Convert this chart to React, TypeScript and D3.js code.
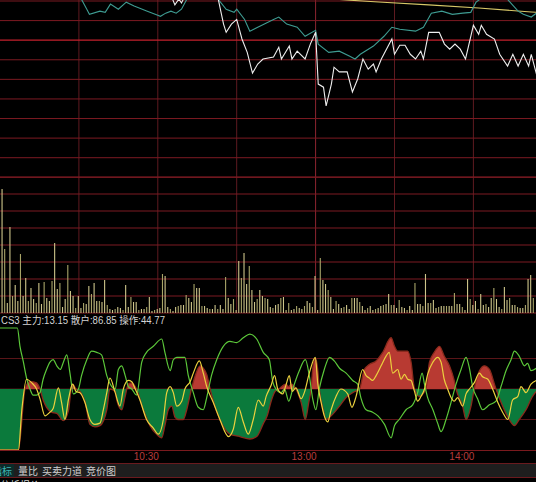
import React from "react";
import * as d3 from "d3";

const W = 536;
const H = 482;

// minutes since 9:30 (13:00 continues at 120), % change vs previous close
const priceWhite: [number, number][] = [
  [0, 1.8], [20, 1.5], [40, 1.6], [60, 1.4], [65, 1.15], [66.5, 0.9], [68, 1.05], [69, 0.95], [70.5, 1.15],
  [78, 1.5], [82, 1.3], [83, 1.04], [85, 0.41], [86, 0.2], [88, 0.41], [90, 0.53], [92, 0.03], [94, -0.31],
  [96, -0.84], [98, -0.61], [100, -0.48], [104, -0.43], [106, -0.18], [107, -0.48], [110, -0.15], [111, -0.48],
  [113, -0.28], [116, -0.48], [118, -0.1], [120, 0.2], [121, -1.12], [123, -1.2], [124, -1.68], [126, -1.12],
  [127, -0.69], [129, -0.81], [132, -0.81], [134, -1.32], [136, -0.99], [138, -0.48], [140, -0.74], [142, -0.61],
  [143, -0.81], [145, -0.48], [149, 0.03], [150, -0.36], [152, -0.13], [154, -0.13], [156, -0.36], [158, -0.48],
  [160, -0.28], [161, -0.48], [163, 0.2], [167, 0.2], [169, -0.1], [171, -0.23], [173, -0.1], [175, -0.23],
  [177, -0.48], [180, 0.38], [182, 0.15], [183, 0.38], [185, 0.15], [188, 0.03], [190, -0.36], [193, -0.66],
  [195, -0.36], [197, -0.66], [199, -0.36], [201, -0.66], [202, -0.36], [204, -0.87], [206, -0.36],
];

const priceAvg: [number, number][] = [
  [0, 1.5], [15, 1.3], [28, 1.15], [31, 1.04], [33, 0.79], [34, 0.66], [38, 0.74], [40, 0.71], [42, 0.92],
  [45, 0.79], [48, 0.97], [51, 0.87], [56, 0.74], [59, 0.66], [61, 0.61], [63, 0.69], [65, 0.74], [67, 0.69],
  [69, 0.79], [71, 1.04], [75, 1.3], [80, 1.3], [83, 1.04], [86, 0.79], [89, 0.71], [90, 0.79], [93, 0.53],
  [95, 0.23], [98, 0.33], [104, 0.53], [106, 0.59], [109, 0.41], [113, 0.33], [116, 0.1], [120, 0.25],
  [121, -0.1], [125, -0.31], [129, -0.28], [133, -0.41], [135, -0.48], [137, -0.36], [142, -0.15], [146, 0.1],
  [149, 0.33], [152, 0.28], [158, 0.23], [161, 0.33], [164, 0.69], [168, 0.74], [172, 0.66], [176, 0.69],
  [179, 0.71], [181, 0.97], [184, 1.12], [190, 1.2], [193, 1.04], [197, 0.74], [199, 0.66], [202, 0.59],
  [206, 0.79], [208, 0.92], [210, 1.0],
];

const priceRef: [number, number][] = [
  [125, 1.06], [133, 1.02], [144, 0.975], [163, 0.9], [182, 0.82], [202, 0.72], [210, 0.69],
];

// per-minute volume
const volumes: number[] = [
  124, 64, 10, 86, 17, 28, 12, 59, 17, 35, 12, 25, 14, 10, 30, 9, 31, 15, 12, 32,
  70, 24, 30, 6, 14, 48, 22, 17, 5, 17, 5, 10, 9, 27, 19, 30, 12, 12, 11, 33,
  8, 4, 3, 4, 6, 5, 3, 28, 6, 16, 11, 11, 3, 4, 4, 6, 16, 2, 3, 4,
  5, 39, 37, 6, 4, 2, 6, 7, 8, 8, 18, 15, 11, 29, 25, 25, 7, 7, 5, 4,
  4, 8, 4, 8, 4, 36, 15, 9, 14, 3, 52, 35, 60, 29, 47, 23, 11, 14, 23, 17, 15,
  14, 6, 5, 8, 9, 15, 16, 3, 10, 3, 4, 7, 5, 4, 7, 12, 10, 6, 37, 3,
  55, 33, 29, 23, 16, 4, 12, 9, 5, 6, 8, 4, 15, 15, 15, 11, 7, 3, 5, 7,
  3, 4, 5, 7, 8, 9, 19, 8, 8, 5, 13, 6, 5, 3, 7, 3, 30, 9, 9, 7,
  39, 10, 10, 13, 5, 6, 7, 7, 7, 7, 7, 20, 9, 9, 6, 3, 34, 14, 8, 12,
  4, 19, 8, 9, 6, 15, 25, 14, 6, 4, 26, 13, 15, 8, 8, 6, 5, 5, 8, 34, 38, 15,
];

// CS3 indicator: 操作 (filled around 50), 主力 (yellow), 散户 (green)
const opSeries: [number, number][] = [
  [0, 0], [6.6, 0], [7.0, 0], [9.5, 50], [11.4, 56], [13.9, 55], [15.2, 50], [16.4, 41], [17.7, 35], [19.6, 31],
  [21.6, 30], [24.1, 24], [26.0, 32], [27.2, 52], [27.6, 54], [28.9, 50], [30.4, 48], [32.3, 40], [34.2, 21],
  [36.1, 19], [38.0, 20], [40.6, 33], [41.8, 50], [43.8, 48], [44.4, 41], [46.3, 33], [47.6, 44], [48.8, 54],
  [50.1, 55], [51.9, 50], [54.5, 33], [57.0, 20], [59.5, 13], [61.5, 10], [62.7, 20], [64.0, 33], [65.3, 36],
  [66.5, 27], [67.8, 25], [69.7, 25], [71.0, 33], [72.8, 50], [74.1, 60], [76.1, 69], [77.3, 67], [78.6, 62],
  [79.9, 50], [81.1, 40], [83.6, 25], [87.4, 13], [91.2, 11], [95.0, 9], [97.6, 11], [100.2, 22], [101.6, 28],
  [103.1, 40], [104.6, 48], [106.0, 50], [108.7, 54], [109.8, 52], [110.7, 54], [112.5, 50], [114.5, 39],
  [116.1, 25], [117.4, 39], [118.3, 50], [119.0, 68], [119.9, 75], [120.8, 66], [121.4, 50], [122.7, 35],
  [124.0, 25], [125.9, 28], [129.1, 36], [131.6, 43], [134.1, 47], [136.7, 50], [138.5, 66], [140.4, 70],
  [143.0, 73], [145.5, 80], [148.7, 92], [150.0, 85], [151.2, 81], [155.0, 81], [156.3, 72], [157.6, 50],
  [159.4, 44], [161.9, 50], [163.3, 72], [165.1, 80], [167.1, 85], [168.9, 77], [170.9, 69], [172.7, 57],
  [173.4, 50], [175.9, 36], [177.2, 25], [179.1, 36], [180.3, 50], [182.3, 65], [184.2, 69], [186.1, 66],
  [188.0, 54], [188.6, 50], [191.1, 36], [193.6, 25], [195.6, 20], [197.4, 25], [200.0, 33], [202.5, 44],
  [203.9, 48],
];

const mainSeries: [number, number][] = [
  [0, 0], [7.0, 0], [8.3, 33], [10.1, 58], [12.1, 55], [13.9, 50], [15.2, 42], [17.1, 28], [19.0, 31],
  [20.2, 34], [22.2, 51], [23.4, 39], [24.7, 25], [26.0, 41], [27.6, 54], [28.9, 48], [30.4, 47], [32.3, 39],
  [34.2, 25], [36.1, 21], [38.0, 22], [39.3, 33], [40.6, 47], [41.8, 59], [43.8, 47], [45.6, 36], [46.9, 50],
  [48.8, 57], [50.1, 56], [51.4, 50], [53.2, 41], [55.7, 25], [58.3, 18], [60.2, 13], [62.1, 25], [63.4, 47],
  [64.7, 52], [65.9, 47], [67.2, 36], [69.1, 40], [70.3, 50], [72.3, 56], [73.5, 63], [75.8, 73], [77.3, 63],
  [78.6, 52], [81.1, 39], [83.6, 25], [86.9, 11], [88.7, 17], [90.6, 35], [92.5, 23], [94.4, 13], [96.3, 25],
  [98.2, 41], [100.1, 36], [101.2, 44], [103.1, 53], [104.4, 61], [105.6, 50], [107.5, 46], [108.7, 53],
  [110.0, 61], [111.1, 48], [112.5, 51], [114.5, 42], [115.7, 47], [117.6, 63], [119.9, 76], [120.8, 55],
  [122.1, 39], [123.3, 28], [124.6, 23], [125.9, 33], [127.8, 44], [129.6, 50], [132.2, 46], [133.8, 35],
  [135.4, 44], [137.9, 66], [139.2, 61], [140.4, 59], [141.7, 57], [143.0, 61], [144.9, 69], [146.8, 77],
  [148.0, 80], [149.3, 63], [151.2, 66], [152.5, 58], [153.8, 62], [155.0, 58], [156.3, 57], [157.6, 48],
  [158.8, 40], [160.1, 44], [161.4, 50], [162.6, 62], [164.6, 72], [166.4, 76], [167.7, 72], [168.9, 58],
  [170.2, 50], [171.5, 43], [172.7, 40], [174.0, 43], [175.9, 36], [177.2, 46], [178.5, 50], [180.3, 55],
  [182.3, 63], [183.5, 60], [185.5, 58], [187.3, 50], [189.3, 39], [191.1, 31], [193.1, 25], [194.9, 41],
  [196.9, 44], [198.1, 52], [200.0, 47], [201.9, 54], [203.9, 57],
];

const retailSeries: [number, number][] = [
  [0, 100], [6.6, 100], [7.6, 85], [8.9, 72], [10.1, 59], [11.4, 50], [12.6, 45], [13.9, 45], [15.2, 47],
  [16.4, 58], [17.7, 66], [19.0, 72], [20.2, 74], [21.6, 69], [22.9, 66], [24.1, 72], [25.4, 78], [26.6, 63],
  [27.9, 46], [29.8, 50], [31.0, 61], [33.0, 74], [34.8, 81], [36.8, 80], [38.6, 78], [40.6, 61], [42.5, 52],
  [43.8, 50], [45.0, 66], [46.3, 69], [47.6, 61], [48.8, 52], [50.1, 50], [51.9, 45], [53.9, 72], [55.7, 80],
  [58.3, 85], [61.5, 91], [62.7, 80], [64.7, 65], [65.9, 74], [67.2, 76], [70.3, 76], [71.6, 61], [73.5, 47],
  [75.4, 35], [77.3, 33], [78.6, 43], [80.4, 61], [82.4, 74], [84.9, 85], [87.4, 89], [90.0, 88], [92.5, 92],
  [95.0, 95], [97.6, 91], [100.1, 80], [102.4, 74], [103.7, 56], [104.9, 50], [106.9, 47], [108.2, 50],
  [109.8, 40], [111.3, 50], [113.8, 65], [116.1, 74], [117.6, 61], [118.9, 42], [120.1, 33], [121.4, 50],
  [123.3, 66], [125.3, 76], [127.1, 73], [129.1, 67], [131.6, 63], [134.1, 57], [136.0, 54], [137.2, 43],
  [139.2, 33], [141.7, 31], [143.7, 28], [146.2, 21], [148.7, 10], [150.0, 20], [151.8, 25], [154.4, 33],
  [156.9, 37], [158.8, 47], [160.5, 63], [161.4, 54], [162.6, 43], [164.6, 33], [166.4, 22], [167.7, 15],
  [169.6, 25], [171.5, 39], [173.4, 54], [175.3, 66], [177.2, 76], [178.5, 67], [179.7, 52], [181.6, 42],
  [183.5, 33], [186.1, 37], [188.6, 40], [190.5, 52], [192.4, 65], [194.3, 74], [195.6, 81], [197.4, 77],
  [199.4, 69], [200.6, 71], [201.9, 65], [203.9, 67],
];

const priceGridLevels = d3.range(1.0, -3.51, -0.5);
const volGridLevels = d3.range(0, 137, 17);
const indGridLevels = [25, 50, 75];
const timeGridMinutes = d3.range(30, 240, 30);
const timeLabels: { m: number; label: string }[] = [
  { m: 60, label: "10:30" },
  { m: 120, label: "13:00" },
  { m: 180, label: "14:00" },
];
const headerText = "CS3 主力:13.15 散户:86.85 操作:44.77";
const tabs = [
  { label: "量比", x: 18 },
  { label: "买卖力道", x: 42 },
  { label: "竞价图", x: 86 },
];

export default function App() {
  const x = d3.scaleLinear().domain([0, 240]).range([0, 631.2]);
  const yP = d3.scaleLinear().domain([1.0, -3.5]).range([1, 177.3]);
  const yV = d3.scaleLinear().domain([0, 136]).range([313, 177]);
  const yI = d3.scaleLinear().domain([0, 100]).range([450, 328]);

  const pLine = d3.line<[number, number]>().x((d) => x(d[0])).y((d) => yP(d[1]));
  const iLine = d3
    .line<[number, number]>()
    .x((d) => x(d[0]))
    .y((d) => yI(d[1]))
    .curve(d3.curveMonotoneX);
  const iArea = d3
    .area<[number, number]>()
    .x((d) => x(d[0]))
    .y0(yI(50))
    .y1((d) => yI(d[1]))
    .curve(d3.curveMonotoneX);

  const mid = yI(50);
  const font = "'Liberation Sans', Arial, 'Noto Sans CJK SC', sans-serif";

  return (
    <div style={{ position: "fixed", left: 0, top: 0, width: W, height: H, background: "#000" }}>
      <svg width={W} height={H} style={{ display: "block", background: "#000" }}>
        <defs>
          <clipPath id="cPrice">
            <rect x={0} y={0} width={W} height={177} />
          </clipPath>
          <clipPath id="cInd">
            <rect x={0} y={314} width={W} height={136} />
          </clipPath>
          <clipPath id="cRed">
            <rect x={0} y={314} width={W} height={mid - 314} />
          </clipPath>
          <clipPath id="cGreen">
            <rect x={0} y={mid} width={W} height={450 - mid} />
          </clipPath>
        </defs>

        {timeGridMinutes.map((m) => (
          <line
            key={"v" + m}
            x1={x(m)}
            x2={x(m)}
            y1={0}
            y2={313}
            stroke={m === 120 ? "#8e2530" : "#5e1a20"}
            strokeWidth={1}
          />
        ))}
        {priceGridLevels.map((v) => (
          <line
            key={"p" + v}
            x1={0}
            x2={W}
            y1={yP(v)}
            y2={yP(v)}
            stroke={Math.abs(v) < 1e-6 ? "#c4202c" : "#7c1a22"}
            strokeWidth={Math.abs(v) < 1e-6 ? 1.3 : 1}
          />
        ))}
        {volGridLevels.map((v) => (
          <line key={"vg" + v} x1={0} x2={W} y1={yV(v)} y2={yV(v)} stroke="#7c1a22" strokeWidth={1} />
        ))}

        <g clipPath="url(#cPrice)" fill="none">
          <path d={pLine(priceRef) || ""} stroke="#d8c868" strokeWidth={1.1} />
          <path d={pLine(priceAvg) || ""} stroke="#3e9c92" strokeWidth={1.1} />
          <path d={pLine(priceWhite) || ""} stroke="#eeeeee" strokeWidth={1.1} />
        </g>

        {volumes.map((v, i) => (
          <rect
            key={"b" + i}
            x={x(i) + 1.5}
            y={yV(v)}
            width={1.1}
            height={yV(0) - yV(v)}
            fill={i % 3 === 1 ? "#a8a468" : "#cdc58a"}
          />
        ))}

        {indGridLevels.map((v) => (
          <line key={"ig" + v} x1={0} x2={W} y1={yI(v)} y2={yI(v)} stroke="#5a1518" strokeWidth={1} />
        ))}
        <line x1={0} x2={W} y1={450.5} y2={450.5} stroke="#7a1a1e" strokeWidth={1} />

        <g clipPath="url(#cInd)">
          <path d={iArea(opSeries) || ""} fill="#b83a32" clipPath="url(#cRed)" />
          <path d={iArea(opSeries) || ""} fill="#0b7a3c" clipPath="url(#cGreen)" />
          <path d={iLine(opSeries) || ""} fill="none" stroke="#8a2a1c" strokeWidth={1.3} />
          <path d={iLine(retailSeries) || ""} fill="none" stroke="#5cc83a" strokeWidth={1.2} />
          <path d={iLine(mainSeries) || ""} fill="none" stroke="#ecd23e" strokeWidth={1.2} />
        </g>

        <text
          x={1}
          y={324}
          fill="#d4d4d4"
          fontSize={10}
          fontFamily={font}
          textLength={164}
          lengthAdjust="spacingAndGlyphs"
        >
          {headerText}
        </text>

        {timeLabels.map((t) => (
          <text
            key={t.label}
            x={x(t.m) + 1}
            y={460}
            textAnchor="end"
            fill="#b83c3c"
            fontSize={10}
            fontFamily={font}
          >
            {t.label}
          </text>
        ))}

        <line x1={0} x2={W} y1={463.5} y2={463.5} stroke="#6a1a1e" />
        <rect x={0} y={464} width={W} height={13} fill="#1e1e1e" />
        <rect x={0} y={464} width={14} height={13} fill="#0c2a2a" />
        <line x1={0} x2={W} y1={477.5} y2={477.5} stroke="#6a1a1e" />
        <text x={12} y={475} textAnchor="end" fill="#3cb4b4" fontSize={10} fontFamily={font}>
          指标
        </text>
        {tabs.map((t) => (
          <text key={t.label} x={t.x} y={475} fill="#cfcfcf" fontSize={10} fontFamily={font}>
            {t.label}
          </text>
        ))}
        <text x={0} y={489} fill="#cfcfcf" fontSize={10} fontFamily={font}>
          分析报价
        </text>
      </svg>
    </div>
  );
}
